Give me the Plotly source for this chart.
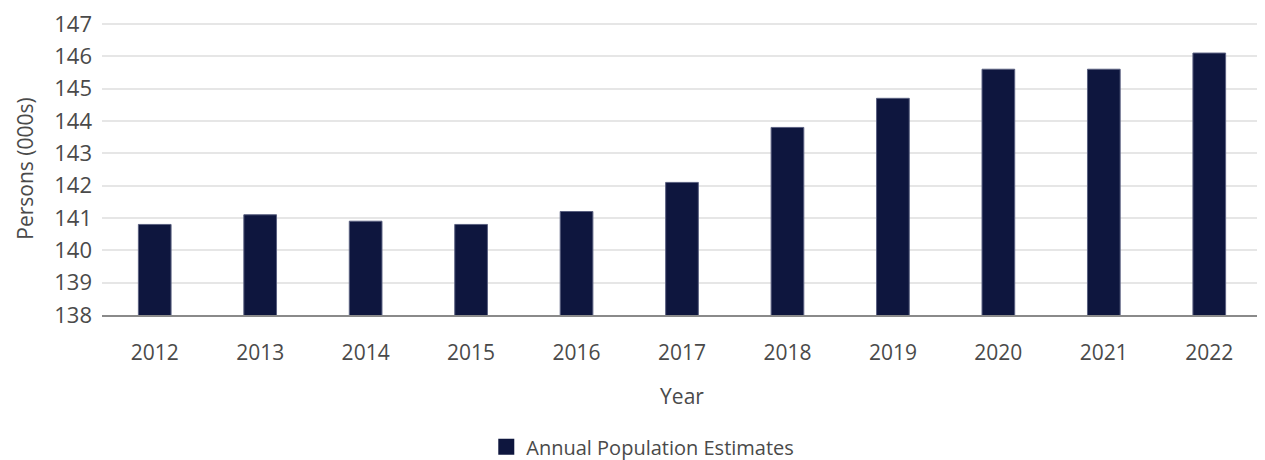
import plotly.graph_objects as go

years = ["2012", "2013", "2014", "2015", "2016", "2017", "2018", "2019", "2020", "2021", "2022"]
population = [140.8, 141.1, 140.9, 140.8, 141.2, 142.1, 143.8, 144.7, 145.6, 145.6, 146.1]
y_ticks = [138, 139, 140, 141, 142, 143, 144, 145, 146, 147]

navy = "#0e163e"
text_col = "#4a4a4a"
font_family = "'Open Sans', Lato, sans-serif"

fig = go.Figure()
fig.add_trace(go.Bar(
    x=years, y=population, name="Annual Population Estimates",
    marker=dict(color=navy, line=dict(color="#5a6080", width=1)),
    showlegend=False,
))
# legend entry with a larger square swatch
fig.add_trace(go.Scatter(
    x=[None], y=[None], mode="markers", name="Annual Population Estimates",
    marker=dict(symbol="square", size=24, color=navy),
))

# page body has an 8px margin, so the figure is a bit smaller than the window
fig.update_layout(
    width=1257, height=452,
    margin=dict(l=94, r=3, t=14, b=145, autoexpand=False),
    paper_bgcolor="white", plot_bgcolor="white",
    font=dict(family=font_family, color=text_col, size=20),
    bargap=0.69,
    xaxis=dict(
        title=dict(text="Year", font=dict(size=21), standoff=24),
        showline=True, linecolor="#8a8a8a", linewidth=2,
        ticks="", tickfont=dict(size=21), ticklabelstandoff=18,
        automargin=False,
    ),
    yaxis=dict(
        title=dict(text="Persons (000s)", font=dict(size=21), standoff=14),
        range=[138, 147.06], tickvals=y_ticks,
        showgrid=True, gridcolor="#e6e6e6", gridwidth=2,
        zeroline=False, tickfont=dict(size=22),
        ticklabelstandoff=9, automargin=False,
        ticklabeloverflow="allow",
    ),
    legend=dict(
        orientation="h", xref="container", yref="paper",
        x=0.505, xanchor="center", y=-0.45, yanchor="middle",
        font=dict(size=20), itemsizing="trace",
    ),
)

fig.write_html("out.html")
